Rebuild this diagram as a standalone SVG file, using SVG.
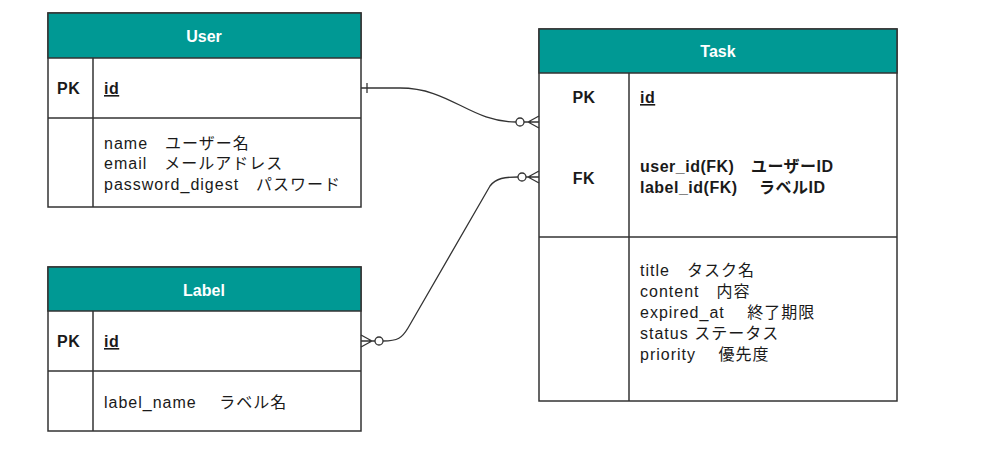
<svg xmlns="http://www.w3.org/2000/svg" width="987" height="467" viewBox="0 0 987 467">
<style>
.box{fill:#fff;stroke:#333;stroke-width:1.5}
.hdr{fill:#009994;stroke:#333;stroke-width:1.5}
.ln{stroke:#333;stroke-width:1.5;fill:none}
.t{font-family:"Liberation Sans","Noto Sans CJK JP",sans-serif;font-size:16px;fill:#1a1a1a;letter-spacing:1px}
.b{font-weight:bold;letter-spacing:0.5px}
.h{font-family:"Liberation Sans","Noto Sans CJK JP",sans-serif;font-size:16px;font-weight:bold;fill:#fff}
.c{stroke:#333;stroke-width:1.3;fill:none}
.o{stroke:#333;stroke-width:1.3;fill:#fff}
</style>
<rect width="987" height="467" fill="#fff"/>
<g id="user">
<rect class="box" x="48" y="13" width="313" height="194"/>
<rect class="hdr" x="48" y="13" width="313" height="45"/>
<line class="ln" x1="48" y1="118" x2="361" y2="118"/>
<line class="ln" x1="93" y1="58" x2="93" y2="207"/>
<text class="h" x="204" y="42" text-anchor="middle">User</text>
<text class="t b" x="57" y="94">PK</text>
<text class="t b" x="104" y="94" text-decoration="underline">id</text>
<text class="t" x="104" y="149">name　ユーザー名</text>
<text class="t" x="104" y="169">email　メールアドレス</text>
<text class="t" x="104" y="190">password_digest　パスワード</text>
</g>
<g id="label">
<rect class="box" x="48" y="267" width="313" height="164"/>
<rect class="hdr" x="48" y="267" width="313" height="44"/>
<line class="ln" x1="48" y1="371" x2="361" y2="371"/>
<line class="ln" x1="93" y1="311" x2="93" y2="431"/>
<text class="h" x="204" y="296" text-anchor="middle">Label</text>
<text class="t b" x="57" y="347">PK</text>
<text class="t b" x="104" y="347" text-decoration="underline">id</text>
<text class="t" x="104" y="408">label_name　 ラベル名</text>
</g>
<g id="task">
<rect class="box" x="539" y="29" width="358" height="372"/>
<rect class="hdr" x="539" y="29" width="358" height="44"/>
<line class="ln" x1="539" y1="237" x2="897" y2="237"/>
<line class="ln" x1="629" y1="73" x2="629" y2="401"/>
<text class="h" x="718" y="57" text-anchor="middle">Task</text>
<text class="t b" x="584" y="103" text-anchor="middle">PK</text>
<text class="t b" x="640" y="103" text-decoration="underline">id</text>
<text class="t b" x="584" y="184" text-anchor="middle">FK</text>
<text class="t b" x="640" y="172">user_id(FK)　ユーザーID</text>
<text class="t b" x="640" y="193">label_id(FK)　 ラベルID</text>
<text class="t" x="640" y="276">title　タスク名</text>
<text class="t" x="640" y="297">content　内容</text>
<text class="t" x="640" y="318">expired_at　 終了期限</text>
<text class="t" x="640" y="339">status ステータス</text>
<text class="t" x="640" y="360">priority　 優先度</text>
</g>
<g id="connectors">
<path class="c" d="M361,88 L400,88 C450,88 470,122 516,122"/>
<line class="c" x1="367" y1="83" x2="367" y2="93"/>
<circle class="o" cx="520" cy="122" r="4"/>
<path class="c" d="M524,122 L539,122 M528,122 L539,116 M528,122 L539,128"/>
<path class="c" d="M383,341 C398,341 402,338 408,328 L490,186 C496,178 505,177 518,177"/>
<circle class="o" cx="522" cy="177" r="4"/>
<path class="c" d="M526,177 L539,177 M528,177 L539,171 M528,177 L539,183"/>
<circle class="o" cx="379" cy="341" r="4"/>
<path class="c" d="M361,341 L375,341 M372,341 L361,335 M372,341 L361,347"/>
</g>
</svg>
